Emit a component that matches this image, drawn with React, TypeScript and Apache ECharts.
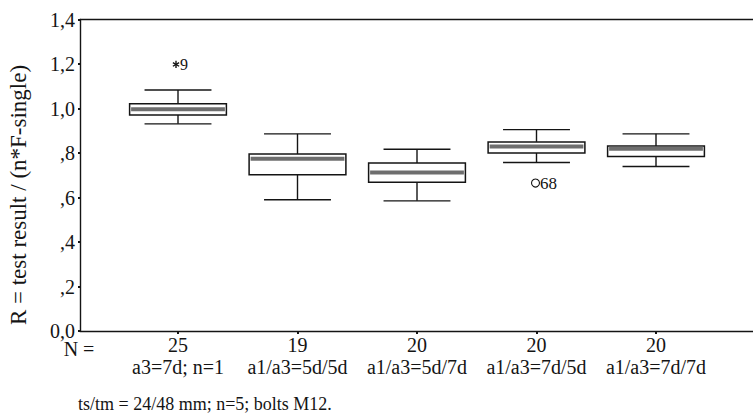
import React, { useEffect, useRef } from 'react';
import * as echarts from 'echarts';

const groupPos = [1, 2, 3, 4, 5];
const groupCounts = ['25', '19', '20', '20', '20'];
const groupNames = ['a3=7d; n=1', 'a1/a3=5d/5d', 'a1/a3=5d/7d', 'a1/a3=7d/5d', 'a1/a3=7d/7d'];
const lowerWhisker = [0.931, 0.59, 0.585, 0.757, 0.739];
const q1 = [0.971, 0.702, 0.668, 0.8, 0.784];
const median = [0.997, 0.774, 0.712, 0.829, 0.819];
const q3 = [1.021, 0.795, 0.755, 0.85, 0.832];
const upperWhisker = [1.083, 0.886, 0.817, 0.905, 0.886];

const outlierPos = [1, 4];
const outlierValues = [1.198, 0.665];
const outlierLabels = ['9', '68'];
const outlierKinds = ['extreme', 'outlier'];

const yTitle = 'R = test result / (n*F-single)';
const nLabel = 'N =';
const footer = 'ts/tm = 24/48 mm; n=5; bolts M12.';

const FONT = 'Liberation Serif, serif';
const INK = '#141414';

function fmtY(v: number): string {
  const t = Math.round(v * 10);
  if (t === 0) return '0,0';
  const s = (t / 10).toFixed(1).replace('.', ',');
  return t < 10 ? s.slice(1) : s;
}

export default function App() {
  const ref = useRef<HTMLDivElement>(null);
  useEffect(() => {
    if (!ref.current) return;
    document.body.style.margin = '0';
    const chart = echarts.init(ref.current, undefined, { renderer: 'svg' });
    const boxData = groupPos.map((x, i) => [x, lowerWhisker[i], q1[i], median[i], q3[i], upperWhisker[i]]);
    const outData = outlierPos.map((x, i) => [x, outlierValues[i]]);
    const xMin = 1 - 98 / 119.5;
    const xMax = xMin + 673 / 119.5;

    chart.setOption({
      animation: false,
      grid: { left: 80, right: 0, top: 19.5, bottom: 89, containLabel: false },
      xAxis: [
        {
          type: 'value',
          min: xMin,
          max: xMax,
          position: 'bottom',
          splitLine: { show: false },
          axisLine: { show: true, onZero: false, lineStyle: { color: INK, width: 1.4 } },
          axisTick: { show: true, customValues: groupPos, length: 3, inside: false, lineStyle: { color: INK, width: 2 } },
          axisLabel: {
            show: true,
            customValues: groupPos,
            margin: 3,
            fontFamily: FONT,
            fontSize: 20,
            color: INK,
            lineHeight: 22,
            formatter: (v: number) => {
              const i = groupPos.indexOf(Math.round(v));
              if (i < 0) return '';
              return `${groupCounts[i]}\n${groupNames[i]}`;
            },
          },
        },
        {
          type: 'value',
          min: xMin,
          max: xMax,
          position: 'top',
          splitLine: { show: false },
          axisLine: { show: true, onZero: false, lineStyle: { color: INK, width: 1.4 } },
          axisTick: { show: false },
          axisLabel: { show: false },
        },
      ],
      yAxis: {
        type: 'value',
        min: 0,
        max: 1.4,
        interval: 0.2,
        splitLine: { show: false },
        axisLine: { show: true, onZero: false, lineStyle: { color: INK, width: 1.4 } },
        axisTick: { show: true, length: 2, lineStyle: { color: INK, width: 2 } },
        axisLabel: {
          margin: 5,
          fontFamily: FONT,
          fontSize: 20,
          lineHeight: 14,
          color: INK,
          formatter: (v: number) => fmtY(v),
        },
      },
      graphic: [
        {
          type: 'text',
          x: 18.5,
          y: 195,
          rotation: Math.PI / 2,
          style: { text: yTitle, fontFamily: FONT, fontSize: 23, fill: INK, align: 'center', verticalAlign: 'middle' },
        },
        {
          type: 'text',
          x: 79,
          y: 349,
          style: { text: nLabel, fontFamily: FONT, fontSize: 20, fill: INK, align: 'center', verticalAlign: 'middle', lineHeight: 14 },
        },
        {
          type: 'text',
          x: 78,
          y: 404,
          style: { text: footer, fontFamily: FONT, fontSize: 18, fill: INK, align: 'left', verticalAlign: 'middle' },
        },
      ],
      series: [
        {
          type: 'custom',
          name: 'box',
          data: boxData,
          renderItem: (params: any, api: any) => {
            const x = api.value(0);
            const lo = api.coord([x, api.value(1)]);
            const b1 = api.coord([x, api.value(2)]);
            const md = api.coord([x, api.value(3)]);
            const b3 = api.coord([x, api.value(4)]);
            const hi = api.coord([x, api.value(5)]);
            const unit = api.size([1, 0])[0];
            const bw = unit * 0.81;
            const cw = unit * 0.56;
            const cx = lo[0];
            const ls = { stroke: INK, lineWidth: 1.4 };
            return {
              type: 'group',
              children: [
                { type: 'line', shape: { x1: cx, y1: hi[1], x2: cx, y2: b3[1] }, style: ls },
                { type: 'line', shape: { x1: cx, y1: b1[1], x2: cx, y2: lo[1] }, style: ls },
                { type: 'line', shape: { x1: cx - cw / 2, y1: hi[1], x2: cx + cw / 2, y2: hi[1] }, style: ls },
                { type: 'line', shape: { x1: cx - cw / 2, y1: lo[1], x2: cx + cw / 2, y2: lo[1] }, style: ls },
                {
                  type: 'rect',
                  shape: { x: cx - bw / 2, y: b3[1], width: bw, height: b1[1] - b3[1] },
                  style: { fill: '#ffffff', stroke: INK, lineWidth: 1.5 },
                },
                {
                  type: 'rect',
                  shape: { x: cx - bw / 2 + 1.5, y: md[1] - 2, width: bw - 3, height: 4 },
                  style: { fill: '#6e6e6e' },
                },
              ],
            };
          },
          z: 3,
        },
        {
          type: 'custom',
          name: 'outliers',
          data: outData,
          renderItem: (params: any, api: any) => {
            const i = params.dataIndex;
            const p = api.coord([api.value(0), api.value(1)]);
            const kind = outlierKinds[i];
            const label = outlierLabels[i];
            const ls = { stroke: INK, lineWidth: 1.4 };
            if (kind === 'extreme') {
              const ax = p[0] - 2;
              const r = 3.6;
              const children: any[] = [];
              [90, 30, 150].forEach((deg) => {
                const a = (deg * Math.PI) / 180;
                children.push({
                  type: 'line',
                  shape: { x1: ax - r * Math.cos(a), y1: p[1] - r * Math.sin(a), x2: ax + r * Math.cos(a), y2: p[1] + r * Math.sin(a) },
                  style: ls,
                });
              });
              children.push({
                type: 'text',
                x: p[0] + 2,
                y: p[1],
                style: { text: label, fontFamily: FONT, fontSize: 16, fill: INK, align: 'left', verticalAlign: 'middle' },
              });
              return { type: 'group', children };
            }
            return {
              type: 'group',
              children: [
                { type: 'circle', shape: { cx: p[0] - 1, cy: p[1], r: 4 }, style: { fill: 'none', stroke: INK, lineWidth: 1.1 } },
                {
                  type: 'text',
                  x: p[0] + 3.5,
                  y: p[1],
                  style: { text: label, fontFamily: FONT, fontSize: 17, fill: INK, align: 'left', verticalAlign: 'middle' },
                },
              ],
            };
          },
          z: 4,
        },
      ],
    });
    return () => chart.dispose();
  }, []);
  return <div ref={ref} style={{ width: 753, height: 420 }} />;
}
